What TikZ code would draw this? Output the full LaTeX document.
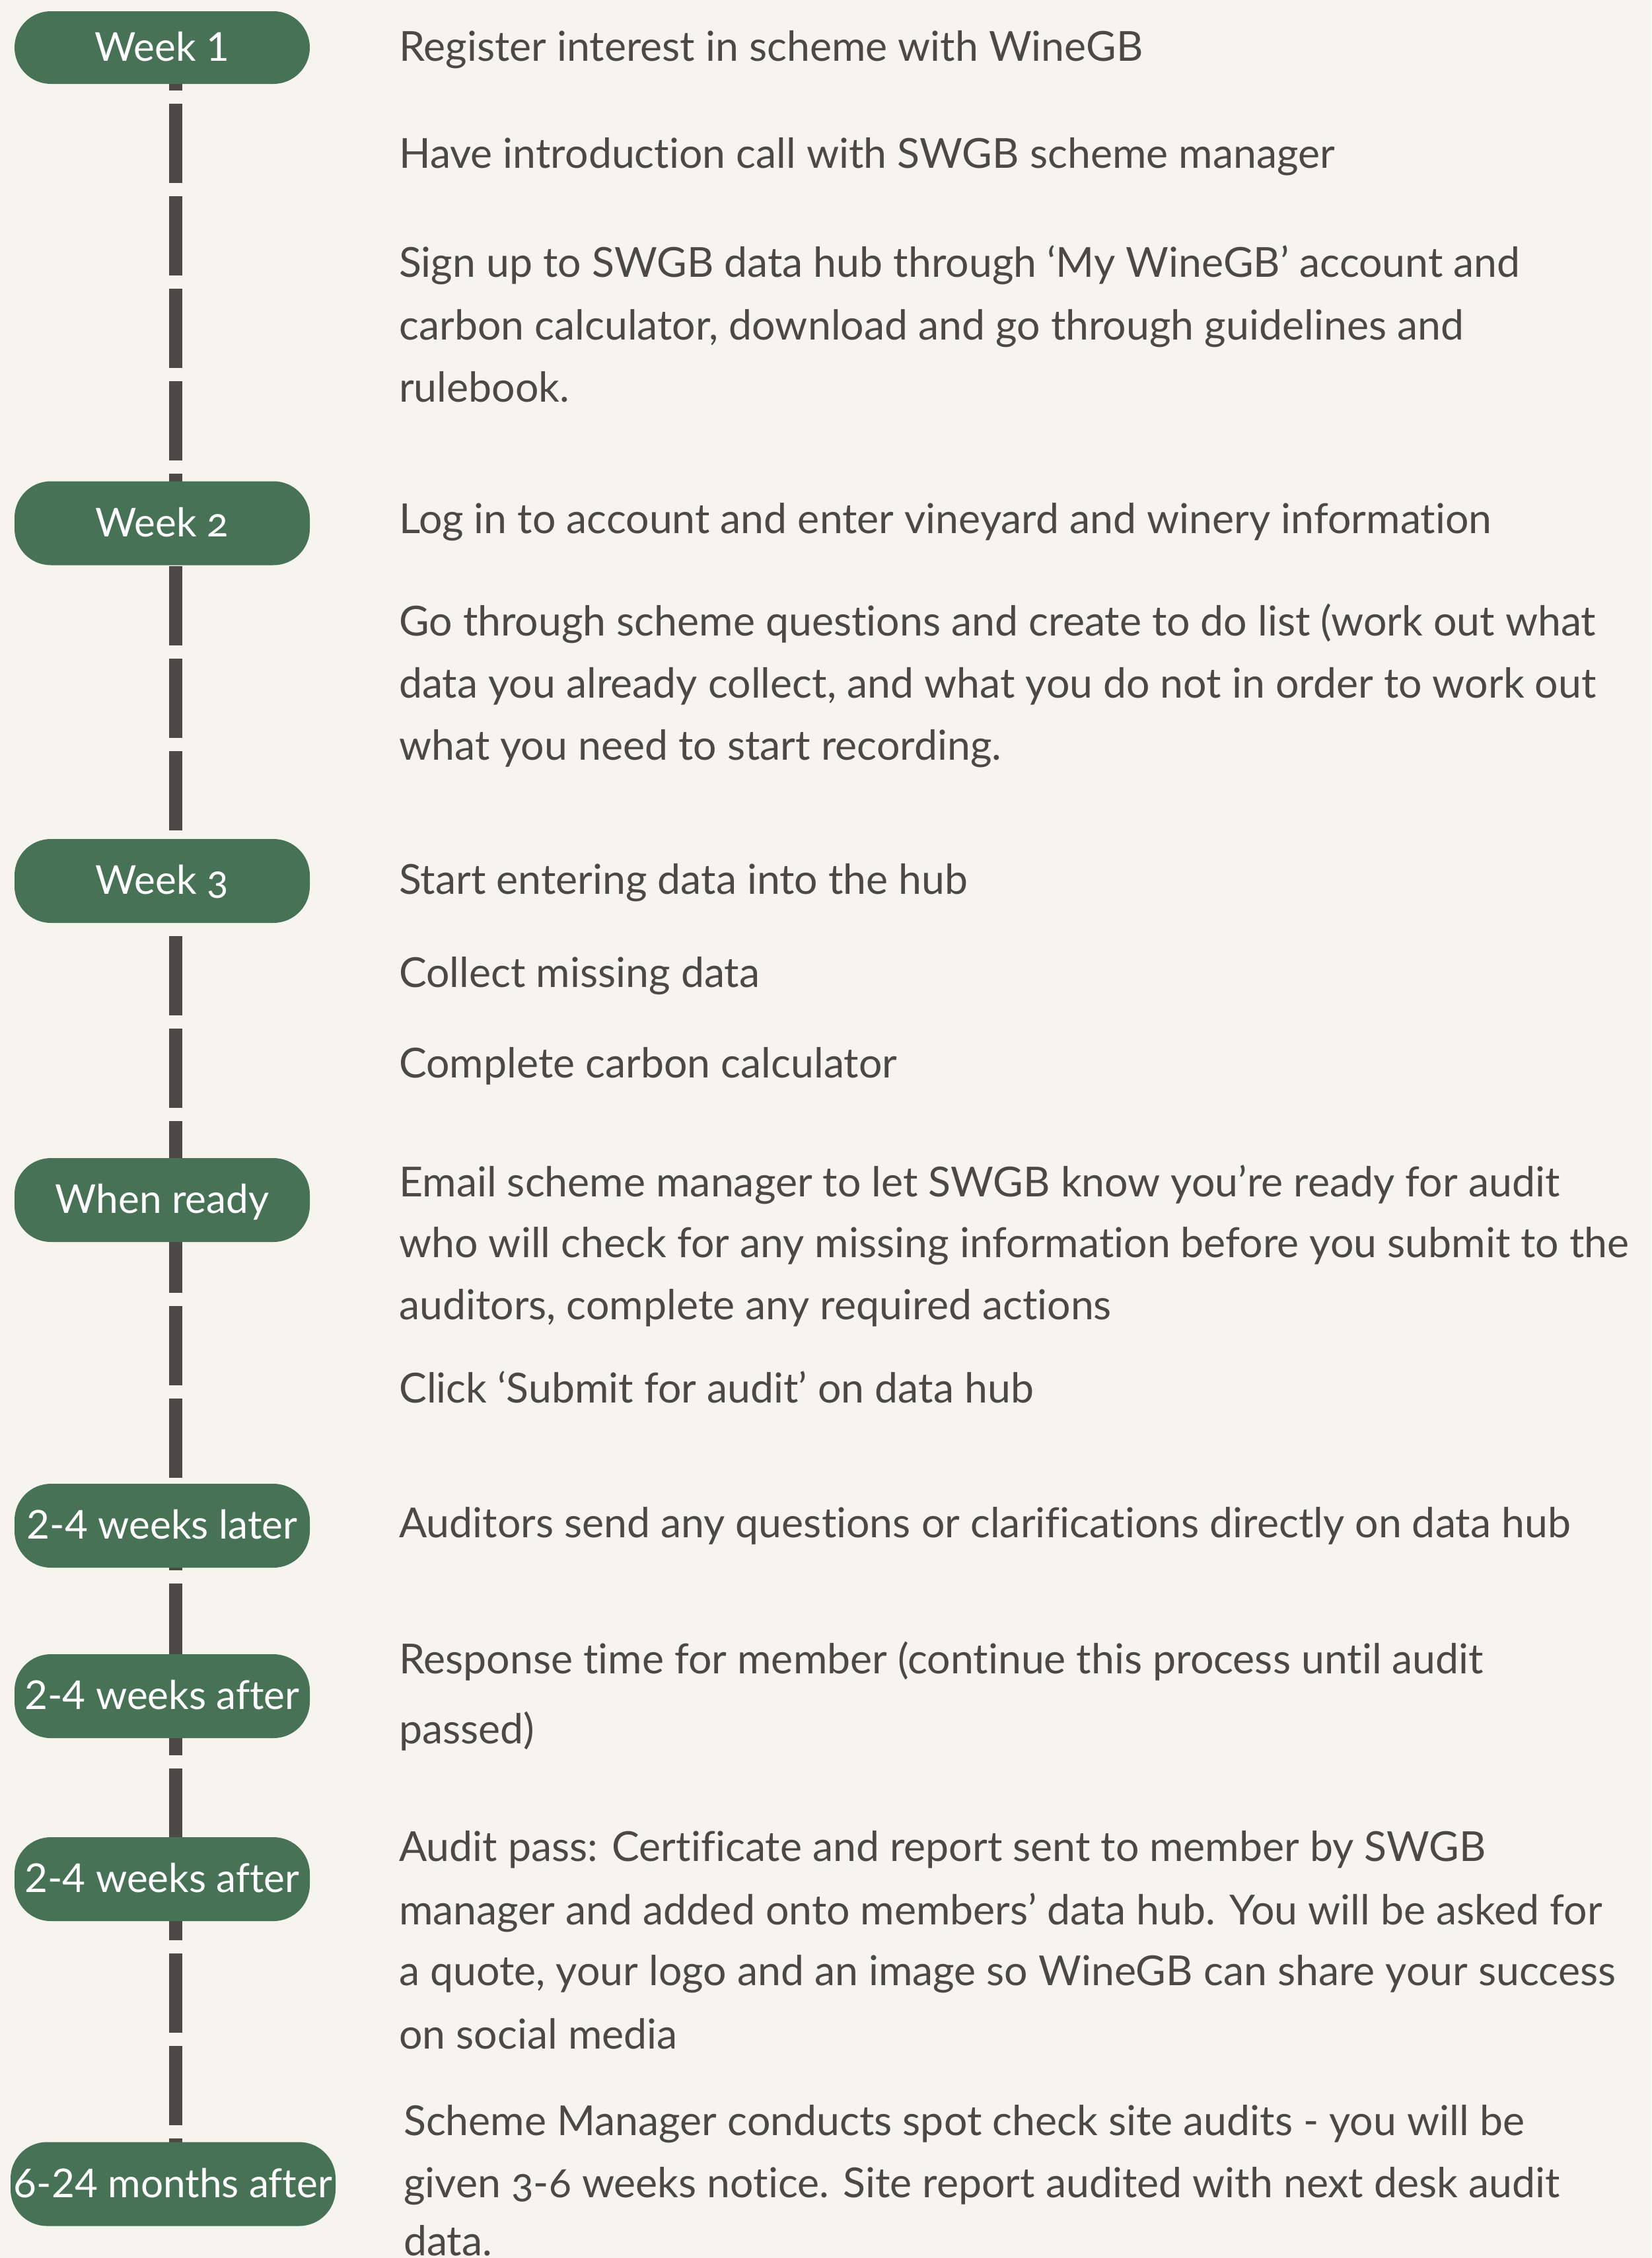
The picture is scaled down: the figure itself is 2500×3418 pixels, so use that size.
\documentclass[tikz,border=0pt]{standalone}
\usepackage{fontspec}
\setmainfont{Lato}[Ligatures=NoCommon]
\newfontfamily\osf{Lato}[Numbers=OldStyle,Ligatures=NoCommon]
\definecolor{bgc}{HTML}{F6F4EE}
\definecolor{pillgreen}{HTML}{477256}
\definecolor{inkc}{HTML}{4A4945}
\newlength\reflen
\newlength\refwho
\newlength\pilllen
\begin{document}
\settowidth{\reflen}{\fontsize{60pt}{72pt}\selectfont a quote, your logo and an image so WineGB can share your success}%
\settowidth{\refwho}{\fontsize{60pt}{72pt}\selectfont who will check for any missing information before you submit to the}%
\settowidth{\pilllen}{\fontsize{60pt}{72pt}\selectfont 6-24 months after}%
\pgfmathsetmacro\fs{min(1885/\reflen*60,1862/\refwho*60)}%
\pgfmathsetmacro\pfs{min(482/\pilllen*60,\fs)}%
\begin{tikzpicture}[x=1pt,y=-1pt]
\tikzset{
  txt/.style={anchor=base west, inner sep=0pt, text=inkc, font=\fontsize{\fs pt}{\fs pt}\selectfont},
  pill/.style={fill=pillgreen, rounded corners=55pt, minimum height=127pt, minimum width=447pt,
    inner sep=0pt, text=white, text height=40pt, text depth=0pt, font=\fontsize{\pfs pt}{\pfs pt}\selectfont},
  tline/.style={draw=inkc, line width=20pt, dash pattern=on 120pt off 20pt}
}
\useasboundingbox (0,0) rectangle (2500,3418);
\fill[bgc] (0,0) rectangle (2500,3418);
% timeline
\coordinate (ltop) at (266,17);
\coordinate (lbot) at (266,3306);
\draw[tline] (ltop) -- (lbot);
% pills
\node[pill, minimum height=110pt] (p1) at (245.5,72) {Week 1};
\node[pill] (p2) at (245.5,792) {\osf Week 2};
\node[pill] (p3) at (245.5,1333.5) {\osf Week 3};
\node[pill] (p4) at (245.5,1816.5) {When ready};
\node[pill] (p5) at (245.5,2309.5) {2-4 weeks later};
\node[pill] (p6) at (245.5,2567.5) {2-4 weeks after};
\node[pill] (p7) at (245.5,2844.5) {2-4 weeks after};
\node[pill, minimum width=492pt] (p8) at (262,3306) {6-24 months after};
% texts
\node[txt] (t1) at (604,92) {Register interest in scheme with WineGB};
\node[txt] (t2) at (604,254) {Have introduction call with SWGB scheme manager};
\node[txt] (t3a) at (604,419) {Sign up to SWGB data hub through ‘My WineGB’ account and};
\node[txt] (t3b) at (604,514) {carbon calculator, download and go through guidelines and};
\node[txt] (t3c) at (604,608) {rulebook.};
\node[txt] (t4) at (604,807) {Log in to account and enter vineyard and winery information};
\node[txt] (t5a) at (604,962) {Go through scheme questions and create to do list (work out what};
\node[txt] (t5b) at (604,1056) {data you already collect, and what you do not in order to work out};
\node[txt] (t5c) at (604,1150) {what you need to start recording.};
\node[txt] (t6) at (604,1353) {Start entering data into the hub};
\node[txt] (t7) at (604,1494) {Collect missing data};
\node[txt] (t8) at (604,1631) {Complete carbon calculator};
\node[txt] (t9a) at (604,1811) {Email scheme manager to let SWGB know you’re ready for audit};
\node[txt] (t9b) at (604,1903) {who will check for any missing information before you submit to the};
\node[txt] (t9c) at (604,1997) {auditors, complete any required actions};
\node[txt] (t10) at (604,2123) {Click ‘Submit for audit’ on data hub};
\node[txt] (t11) at (604,2327) {Auditors send any questions or clarifications directly on data hub};
\node[txt] (t12a) at (604,2533) {Response time for member (continue this process until audit};
\node[txt] (t12b) at (604,2639) {passed)};
\node[txt] (t13a) at (604,2817) {Audit pass: Certificate and report sent to member by SWGB};
\node[txt] (t13b) at (604,2913) {manager and added onto members’ data hub. You will be asked for};
\node[txt] (t13c) at (604,3005) {a quote, your logo and an image so WineGB can share your success};
\node[txt] (t13d) at (604,3101) {on social media};
\node[txt] (t14a) at (611,3232) {Scheme Manager conducts spot check site audits - you will be};
\node[txt] (t14b) at (611,3326) {\osf given 3-6 weeks notice. Site report audited with next desk audit};
\node[txt] (t14c) at (611,3414) {data.};
\end{tikzpicture}
\end{document}
